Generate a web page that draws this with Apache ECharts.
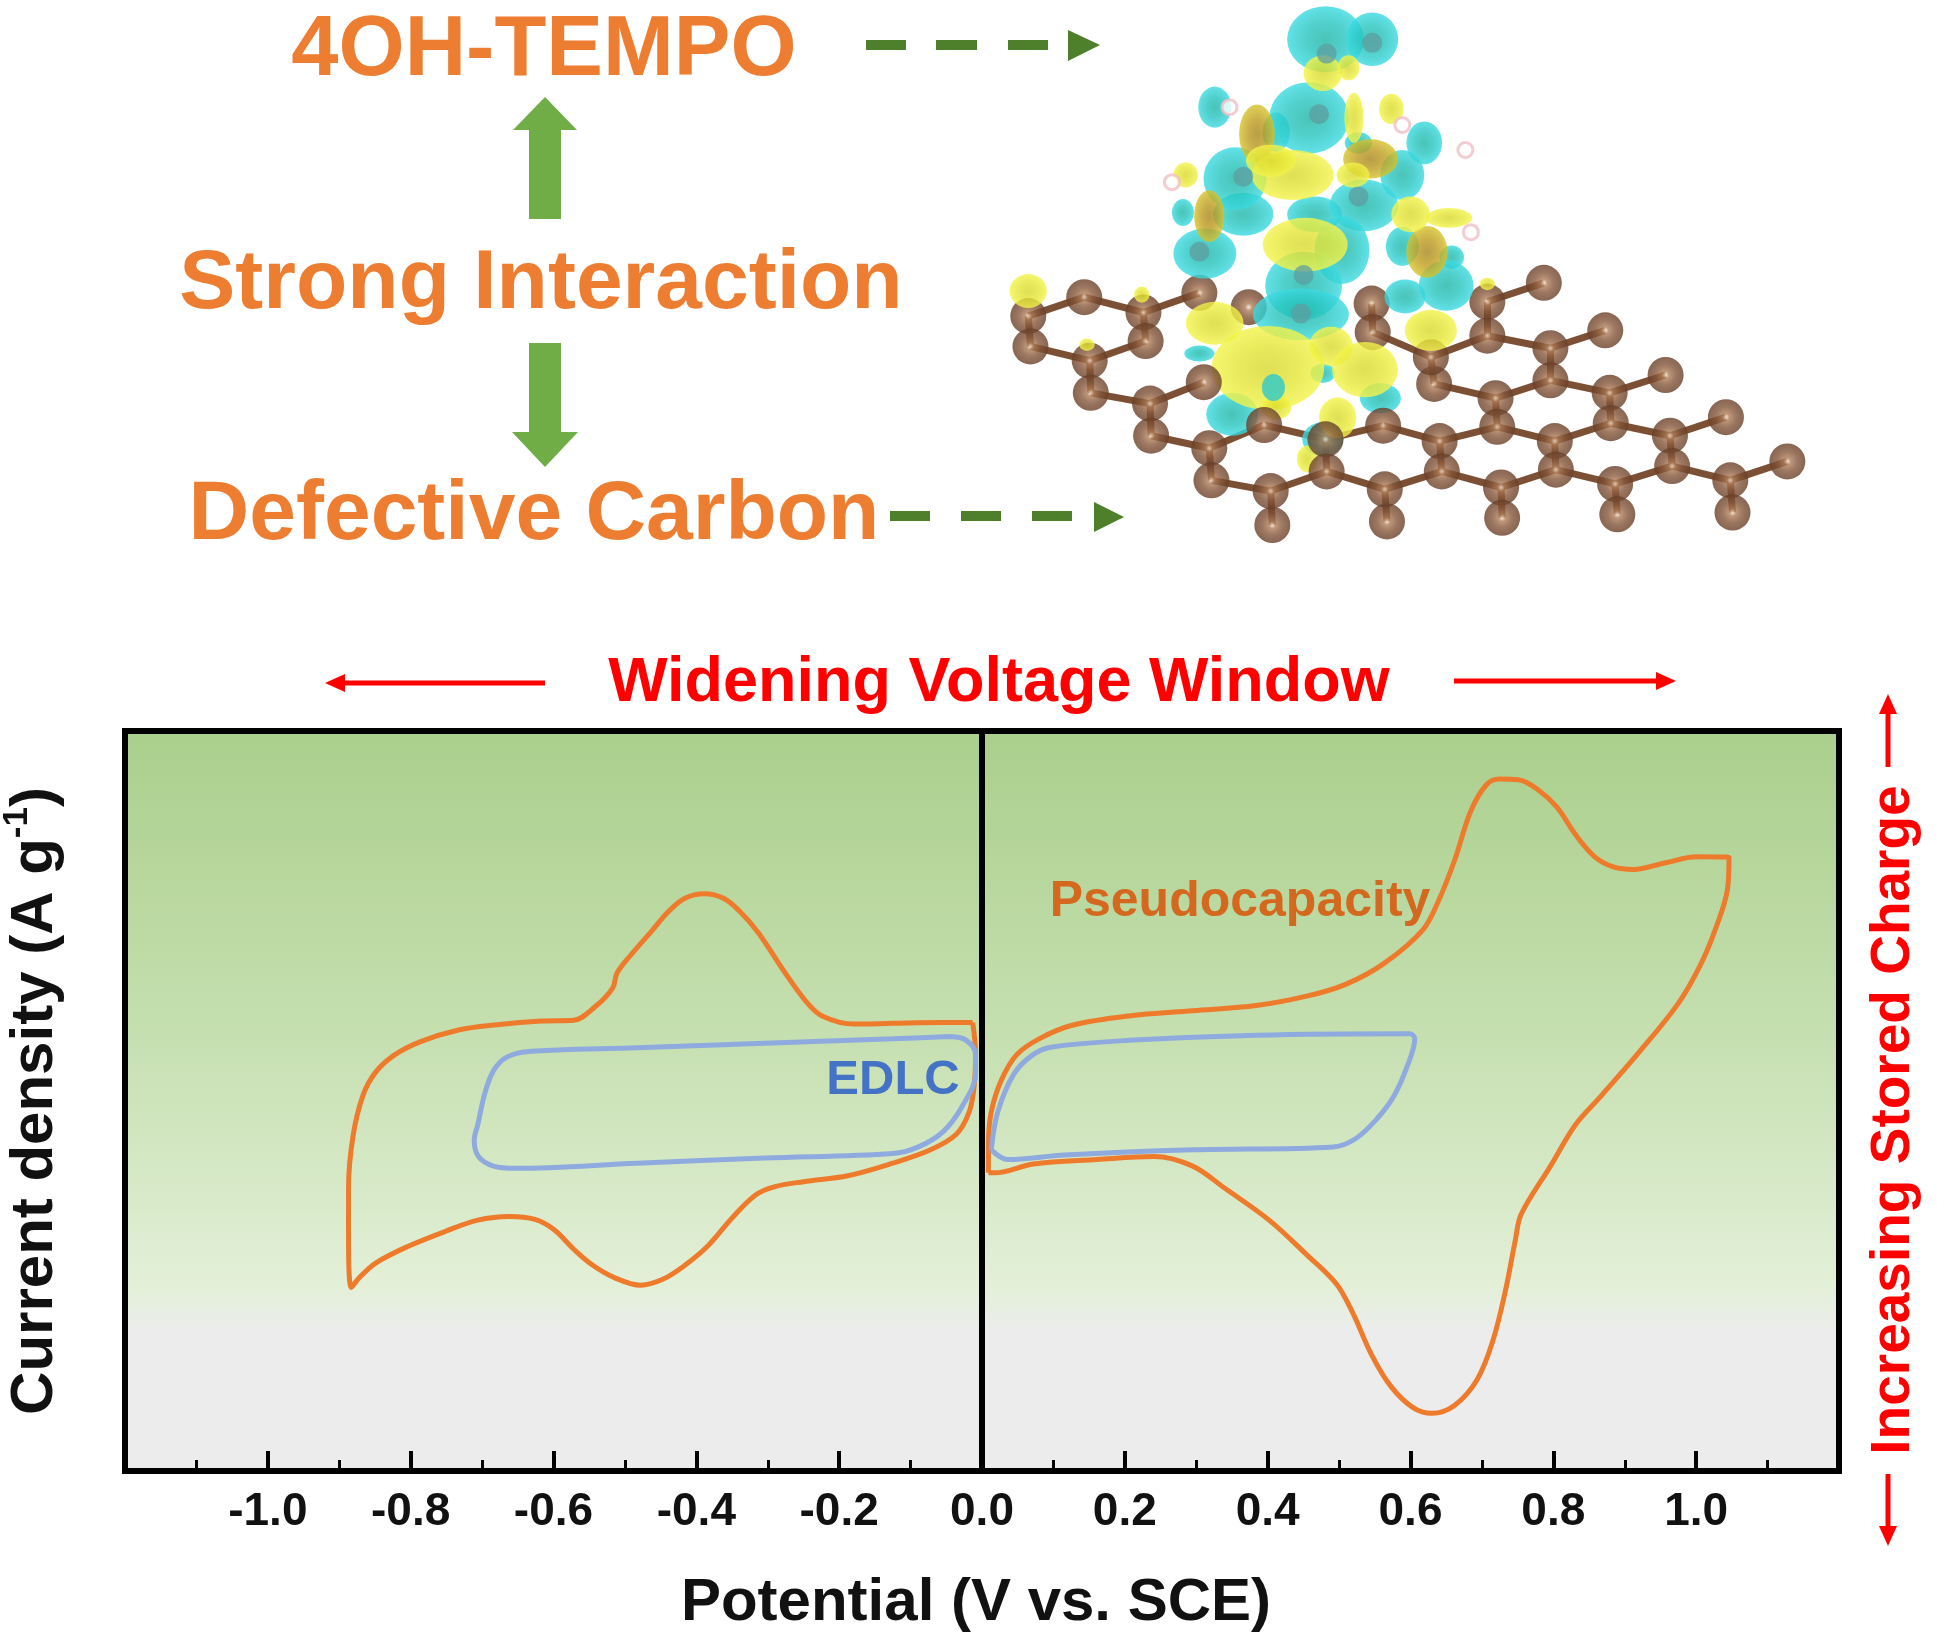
<!DOCTYPE html>
<html><head><meta charset="utf-8">
<style>html,body{margin:0;padding:0;background:#fff}#c{width:1937px;height:1644px}</style>
<script src="https://cdn.jsdelivr.net/npm/echarts@6/dist/echarts.min.js"></script>
</head><body><div id="c"></div>
<script>
// ---- chart data: potential (V vs. SCE) and current density (no scale given in the source, arbitrary units)
const xTickLabels = ['-1.0','-0.8','-0.6','-0.4','-0.2','0.0','0.2','0.4','0.6','0.8','1.0'];
const orangeNegX = [-0.013,-0.054,-0.125,-0.179,-0.224,-0.246,-0.277,-0.313,-0.340,-0.362,-0.389,-0.416,-0.438,-0.465,-0.492,-0.511,-0.517,-0.541,-0.572,-0.617,-0.679,-0.733,-0.787,-0.823,-0.849,-0.867,-0.881,-0.887,-0.887,-0.883,-0.872,-0.849,-0.805,-0.751,-0.706,-0.662,-0.626,-0.599,-0.572,-0.545,-0.514,-0.478,-0.447,-0.416,-0.384,-0.349,-0.317,-0.291,-0.250,-0.188,-0.125,-0.072,-0.036,-0.018,-0.011,-0.009,-0.013];
const orangeNegY = [10.6,10.6,10.5,10.4,11.5,13.4,17.5,22.7,25.7,27.4,28.0,27.4,25.7,22.7,19.7,17.3,15.3,12.8,10.9,10.8,10.3,9.6,8.0,6.2,3.9,0.7,-4.9,-11.8,-17.8,-25.2,-23.9,-21.9,-19.7,-17.6,-16.1,-15.6,-16.0,-17.4,-20.0,-22.2,-23.9,-24.9,-24.1,-22.2,-19.6,-15.7,-12.7,-11.6,-10.9,-10.1,-8.4,-6.6,-4.5,-1.5,2.0,6.3,10.6];
const blueNegX = [-0.045,-0.125,-0.304,-0.483,-0.635,-0.666,-0.684,-0.696,-0.706,-0.711,-0.705,-0.684,-0.653,-0.483,-0.304,-0.125,-0.089,-0.054,-0.027,-0.009,-0.009,-0.022,-0.045];
const blueNegY = [8.7,8.4,7.8,7.2,6.7,5.9,4.1,1.1,-3.2,-5.3,-7.5,-8.8,-9.1,-8.4,-7.7,-7.1,-6.2,-4.1,-0.6,3.7,6.3,8.2,8.7];
const orangePosX = [0.009,0.009,0.013,0.027,0.049,0.080,0.125,0.206,0.295,0.384,0.456,0.510,0.563,0.617,0.639,0.662,0.684,0.706,0.724,0.751,0.778,0.805,0.831,0.858,0.885,0.912,0.957,1.001,1.046,1.044,1.028,1.006,0.975,0.921,0.867,0.831,0.796,0.755,0.747,0.733,0.715,0.693,0.662,0.630,0.603,0.572,0.545,0.519,0.496,0.456,0.402,0.340,0.295,0.241,0.161,0.072,0.018,0.009];
const orangePosY = [-9.7,-5.8,-1.5,2.8,6.3,8.4,10.2,11.5,12.2,12.9,14.2,15.8,18.6,23.1,27.0,32.6,39.1,42.7,43.5,43.4,42.1,39.7,36.0,33.0,31.6,31.3,32.2,33.0,32.9,28.7,23.5,18.4,13.2,6.7,0.7,-3.2,-8.8,-15.3,-18.7,-25.6,-32.5,-37.7,-41.1,-42.2,-41.4,-38.5,-34.2,-28.6,-24.7,-20.9,-16.1,-11.8,-8.8,-7.5,-7.9,-8.5,-9.7,-9.7];
const bluePosX = [0.013,0.022,0.045,0.072,0.098,0.206,0.384,0.599,0.606,0.595,0.577,0.554,0.523,0.492,0.295,0.116,0.036,0.013];
const bluePosY = [-6.6,-1.5,3.7,6.3,7.3,8.2,8.9,9.1,8.4,4.6,0.7,-2.3,-5.1,-6.2,-6.6,-7.3,-7.9,-6.6];

// ---- illustration of the charge-density picture, in its own hidden 1568 x 1568 coordinate box
const sheetAtoms = [[88,885],[92,970],[190,832],[298,875],[302,955],[200,1010],[202,1100],[400,820],[310,1130],[312,1220],[418,1255],[422,1345],[530,1375],[533,1470],[742,1460],[738,1370],[838,1235],[842,1320],[950,1365],[952,1450],[940,1115],[943,1195],[1048,1235],[1050,1315],[1158,1355],[1162,1440],[1148,1100],[1150,1185],[1258,1220],[1262,1305],[1368,1345],[1372,1435],[1472,1292],[1360,1168],[1250,1050],[1040,975],[1040,1065],[828,1075],[1140,925],[1028,792],[925,845],[925,940],[714,850],[716,930],[822,1000],[490,860]];
const frontAtoms = [[408,1070],[518,1190],[630,1230],[735,1192],[632,1320]];
const tealBlobs = [[630,110,140,185],[715,110,95,150],[540,370,50,110],[600,330,145,200],[428,300,60,115],[810,400,65,120],[690,400,50,60],[480,600,110,120],[370,595,40,75],[610,600,100,100],[465,500,115,175],[770,490,80,140],[700,575,125,145],[410,710,115,140],[660,700,100,190],[770,690,60,110],[860,720,45,65],[775,830,75,95],[850,800,100,140],[590,800,140,190],[585,880,175,145],[400,990,55,45],[460,1160,95,120],[625,1045,45,55],[730,1115,75,85],[625,1230,75,95]];
const yellowBlobs = [[625,205,70,100],[672,190,40,70],[682,330,35,140],[750,305,45,85],[375,490,45,70],[570,490,150,140],[530,450,90,90],[680,490,60,70],[593,685,155,150],[855,610,85,55],[785,600,70,100],[88,815,68,95],[295,825,28,45],[195,965,28,35],[925,795,28,35],[428,905,105,120],[822,925,95,115],[525,1030,205,235],[640,970,80,110],[702,1035,120,155],[540,1140,55,70],[652,1170,68,115],[597,1285,38,75]];
const oliveBlobs = [[505,375,65,165],[712,445,100,110],[418,605,55,145],[815,705,75,145]];
const innerTeal = [[535,1085,42,75]];
const coreAtoms = [[632,150],[618,320],[715,120],[480,495],[690,550],[590,770],[585,878],[400,705]];
const hydrogenAtoms = [[885,420],[350,510],[895,650],[455,300],[770,350]];

const FONT = '"Liberation Sans", Arial, sans-serif';
const zip = (xs, ys) => xs.map((x, i) => [x, ys[i]]);
const curve = (name, xs, ys, color, z) => ({
  name, type: 'line', xAxisIndex: 0, yAxisIndex: 0, data: zip(xs, ys), smooth: 0.35, showSymbol: false, z,
  lineStyle: { color, width: 5 }, itemStyle: { color }, clip: false, silent: true
});

const bonds = [];
const allAtoms = sheetAtoms.concat(frontAtoms).filter(a => a[0] !== 490);
allAtoms.forEach((a, i) => allAtoms.slice(i + 1).forEach(b => {
  const dx = Math.abs(a[0] - b[0]), dy = Math.abs(a[1] - b[1]);
  if (dx <= 118 && dy <= 95) bonds.push({ coords: [a, b] });
}));

const radial = stops => new echarts.graphic.RadialGradient(0.5, 0.5, 0.5, stops.map((color, i) => ({ offset: i / (stops.length - 1), color })));
const atomFill = () => new echarts.graphic.RadialGradient(0.5, 0.5, 0.5, [
  { offset: 0, color: '#F7E3D0' }, { offset: 0.2, color: '#AE7D58' }, { offset: 0.55, color: '#85563A' }, { offset: 1, color: '#683F28' }]);
const blobSeries = (data, color, z) => ({
  type: 'scatter', xAxisIndex: 1, yAxisIndex: 3, data, z, silent: true,
  symbolSize: d => [d[2] / 1.823, d[3] / 2.8], itemStyle: { color }
});
const dotSeries = (data, size, style, z) => ({
  type: 'scatter', xAxisIndex: 1, yAxisIndex: 3, data, z, silent: true, symbolSize: size, itemStyle: style
});

const txt = (text, x, y, size, fill, extra) => Object.assign({
  type: 'text', x, y, z: 50,
  style: { text, fill, font: 'bold ' + size + 'px ' + FONT, align: 'center', verticalAlign: 'middle' }
}, extra || {});
const poly = (points, fill) => ({ type: 'polygon', z: 50, shape: { points }, style: { fill } });
const seg = (x1, y1, x2, y2, stroke, lineWidth) => ({ type: 'line', z: 50, shape: { x1, y1, x2, y2 }, style: { stroke, lineWidth } });
const RED = '#FF0000', ORANGE = '#ED7D31', ARROW = '#70AD47', DASH = '#4E7F2A';

const graphicEls = [
  txt('4OH-TEMPO', 544, 52, 85, ORANGE),
  txt('Strong Interaction', 541, 285, 84, ORANGE),
  txt('Defective Carbon', 534, 516, 84, ORANGE),
  poly([[529,219],[561,219],[561,130],[577,130],[545,97],[513,130],[529,130]], ARROW),
  poly([[529,343],[561,343],[561,432],[578,432],[545,467],[512,432],[529,432]], ARROW),
  seg(866,45,906,45,DASH,10), seg(936,45,977,45,DASH,10), seg(1008,45,1048,45,DASH,10),
  poly([[1068,30],[1100,45],[1068,61]], DASH),
  seg(890,516,930,516,DASH,10), seg(961,516,1001,516,DASH,10), seg(1032,516,1072,516,DASH,10),
  poly([[1094,502],[1124,517],[1094,532]], DASH),
  txt('Widening Voltage Window', 999, 684, 63, RED),
  seg(545,683,340,683,RED,5), poly([[325,683],[345,674],[345,692]], RED),
  seg(1454,681,1660,681,RED,5), poly([[1676,681],[1656,672],[1656,690]], RED),
  txt('Increasing Stored Charge', 1894, 1120, 55, RED, { rotation: Math.PI / 2 }),
  seg(1888,767,1888,710,RED,5), poly([[1888,694],[1879,714],[1897,714]], RED),
  seg(1888,1474,1888,1530,RED,5), poly([[1888,1546],[1879,1526],[1897,1526]], RED),
  txt('EDLC', 893, 1080, 49, '#4472C4'),
  txt('Pseudocapacity', 1240, 902, 50, '#D4681E')
];

const chart = echarts.init(document.getElementById('c'), null, { renderer: 'canvas' });
chart.setOption({
  animation: false,
  backgroundColor: '#fff',
  grid: [
    { left: 125, top: 731, width: 1714, height: 740, show: true, borderColor: '#000', borderWidth: 6, z: 0, outerBoundsMode: 'none',
      backgroundColor: new echarts.graphic.LinearGradient(0, 0, 0, 1, [
        { offset: 0, color: '#AACF8C' }, { offset: 0.4, color: '#C5DFAF' },
        { offset: 0.75, color: '#E3F0D8' }, { offset: 0.81, color: '#ECECEC' }, { offset: 1, color: '#ECECEC' }]) },
    { left: 980, top: 0, width: 860, height: 560, show: false, outerBoundsMode: 'none' }
  ],
  xAxis: [
    { type: 'value', gridIndex: 0, min: -1.2, max: 1.2, interval: 0.2, position: 'bottom',
      name: 'Potential (V vs. SCE)', nameLocation: 'middle', nameGap: 102,
      nameTextStyle: { fontFamily: FONT, fontWeight: 'bold', fontSize: 60, color: '#111', padding: [0, 12, 0, 0] },
      axisLine: { show: true, onZero: false, lineStyle: { color: '#000', width: 6 } },
      axisTick: { show: true, inside: true, length: 20, lineStyle: { color: '#000', width: 4 } },
      minorTick: { show: true, splitNumber: 2, length: 11, lineStyle: { color: '#000', width: 3 } },
      axisLabel: { margin: 18, fontFamily: FONT, fontWeight: 'bold', fontSize: 46, color: '#111',
        formatter: v => xTickLabels.includes(v.toFixed(1)) ? v.toFixed(1) : '' },
      splitLine: { show: false } },
    { type: 'value', gridIndex: 1, min: 0, max: 1568, show: false }
  ],
  yAxis: [
    { type: 'value', gridIndex: 0, min: -50, max: 50,
      axisLine: { show: true, onZero: true, lineStyle: { color: '#000', width: 6 } },
      axisTick: { show: false }, axisLabel: { show: false }, splitLine: { show: false } },
    { type: 'value', gridIndex: 0, min: -50, max: 50, position: 'left',
      name: '{a|Current density (A g}{s|-1}{a|)}', nameLocation: 'middle', nameRotate: 90, nameGap: 55,
      nameTextStyle: { color: '#111', rich: {
        a: { fontFamily: FONT, fontWeight: 'bold', fontSize: 60, color: '#111', lineHeight: 70 },
        s: { fontFamily: FONT, fontWeight: 'bold', fontSize: 35, color: '#111', verticalAlign: 'top', lineHeight: 50 } } },
      axisLine: { show: false, onZero: false }, axisTick: { show: false }, axisLabel: { show: false }, splitLine: { show: false } },
    { type: 'value', gridIndex: 0, min: -50, max: 50, position: 'right', show: false },
    { type: 'value', gridIndex: 1, min: 0, max: 1568, inverse: true, show: false }
  ],
  series: [
    curve('Wide window, negative', orangeNegX, orangeNegY, '#EE7A2C', 5),
    curve('Wide window, positive', orangePosX, orangePosY, '#EE7A2C', 5),
    curve('EDLC, negative', blueNegX, blueNegY, '#8FAADF', 6),
    curve('EDLC, positive', bluePosX, bluePosY, '#8FAADF', 6),
    { type: 'lines', coordinateSystem: 'cartesian2d', xAxisIndex: 1, yAxisIndex: 3, data: bonds, z: 1, silent: true,
      lineStyle: { color: '#7C5034', width: 7, opacity: 1 } },
    dotSeries(sheetAtoms, 36, { color: atomFill() }, 2),
    blobSeries(tealBlobs, radial(['#1DB5A6', '#25C4BE', '#3BDAE2']), 3),
    blobSeries(oliveBlobs, radial(['#A8851A', '#BE9C1E', '#D6C42A']), 4),
    blobSeries(yellowBlobs, radial(['#D8D82C', '#E4E434', '#F4F44A']), 4),
    blobSeries(innerTeal, '#2CC9CA', 5),
    dotSeries(frontAtoms, 36, { color: atomFill() }, 6),
    dotSeries(coreAtoms, 20, { color: '#5E9EA0', opacity: 0.75 }, 6),
    dotSeries(hydrogenAtoms, 15, { color: '#fff', borderColor: '#F0BFC6', borderWidth: 3 }, 6)
  ],
  graphic: { elements: graphicEls }
});
</script></body></html>
